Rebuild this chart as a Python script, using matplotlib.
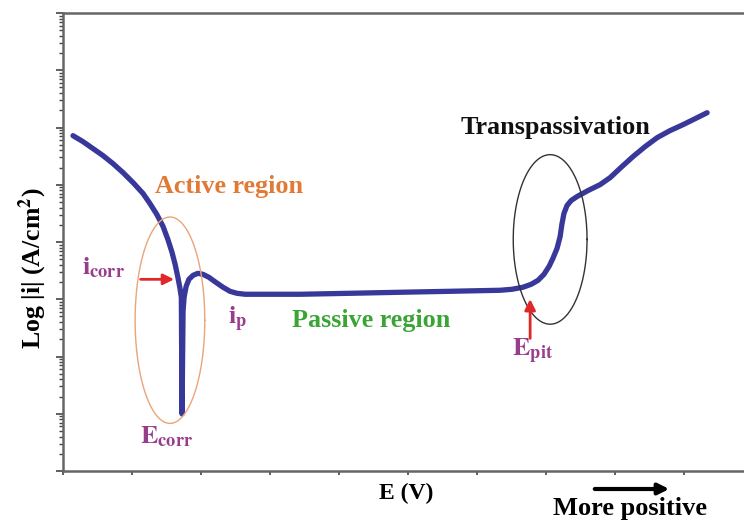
import numpy as np
import matplotlib
matplotlib.use("Agg")
import matplotlib.pyplot as plt
from matplotlib.ticker import LogLocator, MultipleLocator, NullFormatter

plt.rcParams['font.family'] = 'Liberation Serif'
plt.rcParams['font.weight'] = 'bold'
plt.rcParams['mathtext.fontset'] = 'stix'

# polarization curve (E in V, log10 of |i| in A/cm2)
E = [-0.971, -0.942, -0.913, -0.884, -0.855, -0.826, -0.797, -0.768, -0.748, -0.728,
     -0.710, -0.696, -0.684, -0.675, -0.667, -0.661, -0.657, -0.655, -0.652, -0.649,
     -0.643, -0.635, -0.623, -0.609, -0.594, -0.577, -0.557, -0.536, -0.516, -0.496,
     -0.472, -0.429, -0.313, -0.168, -0.023, 0.122, 0.267, 0.301, 0.333, 0.357,
     0.377, 0.394, 0.409, 0.420, 0.432, 0.441, 0.446, 0.452, 0.461, 0.473,
     0.490, 0.522, 0.557, 0.586, 0.617, 0.652, 0.687, 0.722, 0.759, 0.797,
     0.832, 0.867]
log_i = [-4.143, -4.247, -4.369, -4.491, -4.631, -4.788, -4.962, -5.153, -5.328, -5.519,
         -5.728, -5.955, -6.181, -6.390, -6.617, -6.808, -6.965, -9.003, -7.209, -6.965,
         -6.774, -6.652, -6.582, -6.547, -6.565, -6.617, -6.704, -6.791, -6.861, -6.896,
         -6.913, -6.913, -6.913, -6.896, -6.878, -6.861, -6.843, -6.826, -6.791, -6.739,
         -6.669, -6.565, -6.425, -6.286, -6.112, -5.903, -5.693, -5.502, -5.362, -5.275,
         -5.206, -5.101, -4.997, -4.875, -4.700, -4.509, -4.335, -4.178, -4.056, -3.951,
         -3.847, -3.742]

# marked regions: centre E, centre log i, half width (V), half height (decades)
active_zone = (-0.690, -7.366, 0.101, 1.803)
transpass_zone = (0.412, -5.955, 0.107, 1.481)

i = 10.0 ** np.array(log_i)

fig = plt.figure(figsize=(7.44, 5.23), dpi=100)
ax = fig.add_axes([63 / 744, 52 / 523, 759 / 744, 458 / 523])

ax.plot(E, i, color='#38389a', lw=3.8, solid_capstyle='round', solid_joinstyle='round')

t = np.linspace(0, 2 * np.pi, 200)
for (cx, cy, a, b), col in [(active_zone, '#eba478'), (transpass_zone, '#333333')]:
    ax.plot(cx + a * np.cos(t), 10.0 ** (cy + b * np.sin(t)), color=col, lw=1.0)

ax.set_yscale('log')
ax.set_xlim(-1.0, 1.2)
ax.set_ylim(1e-10, 1e-2)
ax.xaxis.set_major_locator(MultipleLocator(0.2))
ax.yaxis.set_major_locator(LogLocator(base=10, numticks=20))
ax.yaxis.set_minor_locator(LogLocator(base=10, subs=np.arange(2, 10), numticks=20))
ax.xaxis.set_major_formatter(NullFormatter())
ax.yaxis.set_major_formatter(NullFormatter())
ax.yaxis.set_minor_formatter(NullFormatter())
ax.tick_params(axis='x', direction='out', length=3, width=1.2, color='#444444')
ax.tick_params(axis='y', which='major', direction='out', length=5, width=1.2, color='#444444')
ax.tick_params(axis='y', which='minor', direction='out', length=3, width=1.0, color='#444444')
for s in ax.spines.values():
    s.set_color('#666666')
    s.set_linewidth(1.8)

purple = '#9a3c8c'
red = '#e02828'
fs = 18.8

ax.text(-0.733, 10 ** -5.031, 'Active region', color='#e07a35', fontsize=fs, va='center')
ax.text(0.151, 10 ** -4.003, 'Transpassivation', color='#111111', fontsize=fs, va='center')
ax.text(-0.336, 10 ** -7.366, 'Passive region', color='#3aa535', fontsize=fs, va='center')
ax.text(-0.945, 10 ** -6.443, r'$\mathbf{i}_{\mathbf{corr}}$', color=purple, fontsize=fs, va='center')
ax.text(-0.522, 10 ** -7.348, r'$\mathbf{i}_{\mathbf{p}}$', color=purple, fontsize=fs, va='center')
ax.text(-0.777, 10 ** -9.404, r'$\mathbf{E}_{\mathbf{corr}}$', color=purple, fontsize=fs, va='center')
ax.text(0.301, 10 ** -7.906, r'$\mathbf{E}_{\mathbf{pit}}$', color=purple, fontsize=fs, va='center')

ax.annotate('', xy=(-0.670, 10 ** -6.652), xytext=(-0.783, 10 ** -6.652),
            arrowprops=dict(arrowstyle='-|>', color=red, lw=2, mutation_scale=16))
ax.annotate('', xy=(0.354, 10 ** -6.948), xytext=(0.354, 10 ** -7.732),
            arrowprops=dict(arrowstyle='-|>', color=red, lw=2, mutation_scale=16))

fig.text(33 / 744, 1 - 268 / 523, r'Log |i| (A/cm$^\mathbf{2}$)', rotation=90,
         fontsize=18.5, ha='center', va='center')
fig.text(406 / 744, 1 - 493 / 523, 'E (V)', fontsize=17, ha='center', va='center')
fig.text(630 / 744, 1 - 509 / 523, 'More positive', fontsize=19, ha='center', va='center')
fig.add_artist(matplotlib.patches.FancyArrowPatch(
    (592 / 744, 1 - 489 / 523), (672 / 744, 1 - 489 / 523), transform=fig.transFigure,
    arrowstyle='-|>', mutation_scale=16, lw=3, color='black'))

fig.savefig('out.png', dpi=100)
